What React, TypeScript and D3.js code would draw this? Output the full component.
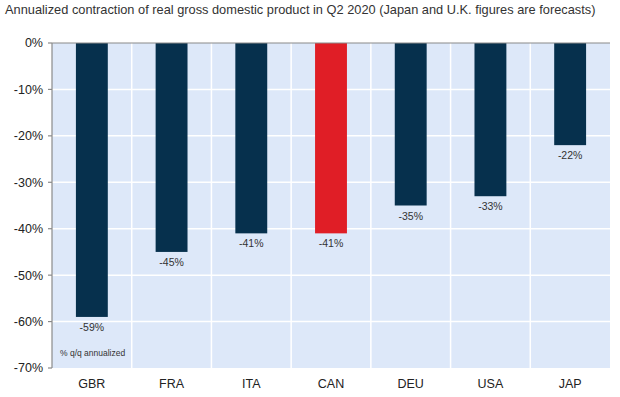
import React, { useEffect, useRef } from "react";
import * as d3 from "d3";

const categories = ["GBR", "FRA", "ITA", "CAN", "DEU", "USA", "JAP"];
const values = [-59, -45, -41, -41, -35, -33, -22];
const highlight = ["CAN"];
const yTicks = [0, -10, -20, -30, -40, -50, -60, -70];
const title = "Annualized contraction of real gross domestic product in Q2 2020 (Japan and U.K. figures are forecasts)";
const note = "% q/q annualized";

const W = 620, H = 397;
const M = { left: 52, right: 10, top: 43, bottom: 29 };

export default function App() {
  const ref = useRef<SVGSVGElement>(null);
  useEffect(() => {
    const svg = d3.select(ref.current);
    svg.selectAll("*").remove();
    const font = "'Liberation Sans', Arial, sans-serif";
    const x = d3.scaleBand().domain(categories).range([M.left, W - M.right]).paddingInner(0).paddingOuter(0);
    const y = d3.scaleLinear().domain([0, -70]).range([M.top, H - M.bottom]);
    const bw = x.bandwidth() * 0.4;

    svg.append("rect").attr("width", W).attr("height", H).attr("fill", "#ffffff");
    svg.append("text").attr("x", 5).attr("y", 14).attr("font-family", font).attr("font-size", 12.8)
      .attr("fill", "#333").text(title);

    svg.append("rect").attr("x", M.left).attr("y", M.top).attr("width", W - M.right - M.left)
      .attr("height", y(-70) - M.top).attr("fill", "#dde8f9");

    const g = svg.append("g");
    yTicks.slice(1, -1).forEach(t => {
      g.append("line").attr("x1", M.left).attr("x2", W - M.right).attr("y1", y(t)).attr("y2", y(t))
        .attr("stroke", "#ffffff").attr("stroke-width", 1.5);
    });
    categories.slice(1).forEach(c => {
      const xx = x(c)!;
      g.append("line").attr("x1", xx).attr("x2", xx).attr("y1", M.top).attr("y2", y(-70))
        .attr("stroke", "#ffffff").attr("stroke-width", 1.5);
    });

    categories.forEach((c, i) => {
      const v = values[i];
      const cx = x(c)! + x.bandwidth() / 2;
      g.append("rect").attr("x", cx - bw / 2).attr("y", y(0)).attr("width", bw).attr("height", y(v) - y(0))
        .attr("fill", highlight.includes(c) ? "#e01e26" : "#06304d");
      g.append("text").attr("x", cx).attr("y", y(v) + 14).attr("text-anchor", "middle")
        .attr("font-family", font).attr("font-size", 10.5).attr("fill", "#333").text(`${v}%`);
      g.append("text").attr("x", cx).attr("y", H - 9).attr("text-anchor", "middle")
        .attr("font-family", font).attr("font-size", 12.5).attr("fill", "#222").text(c);
    });

    // axes
    g.append("line").attr("x1", M.left).attr("x2", W - M.right).attr("y1", y(0)).attr("y2", y(0))
      .attr("stroke", "#8a8a8a").attr("stroke-width", 1.2);
    g.append("line").attr("x1", M.left).attr("x2", M.left).attr("y1", y(0)).attr("y2", y(-70))
      .attr("stroke", "#8a8a8a").attr("stroke-width", 1.2);
    yTicks.forEach(t => {
      g.append("line").attr("x1", M.left - 4).attr("x2", M.left).attr("y1", y(t)).attr("y2", y(t))
        .attr("stroke", "#8a8a8a").attr("stroke-width", 1.2);
      g.append("text").attr("x", M.left - 9).attr("y", y(t)).attr("dy", "0.35em").attr("text-anchor", "end")
        .attr("font-family", font).attr("font-size", 12.5).attr("fill", "#222").text(`${t}%`);
    });

    g.append("text").attr("x", 60).attr("y", y(-67.4)).attr("font-family", font).attr("font-size", 8.5)
      .attr("fill", "#333").text(note);
  }, []);
  return (
    <svg ref={ref} width={W} height={H} style={{ position: "absolute", left: 0, top: 0 }} />
  );
}
